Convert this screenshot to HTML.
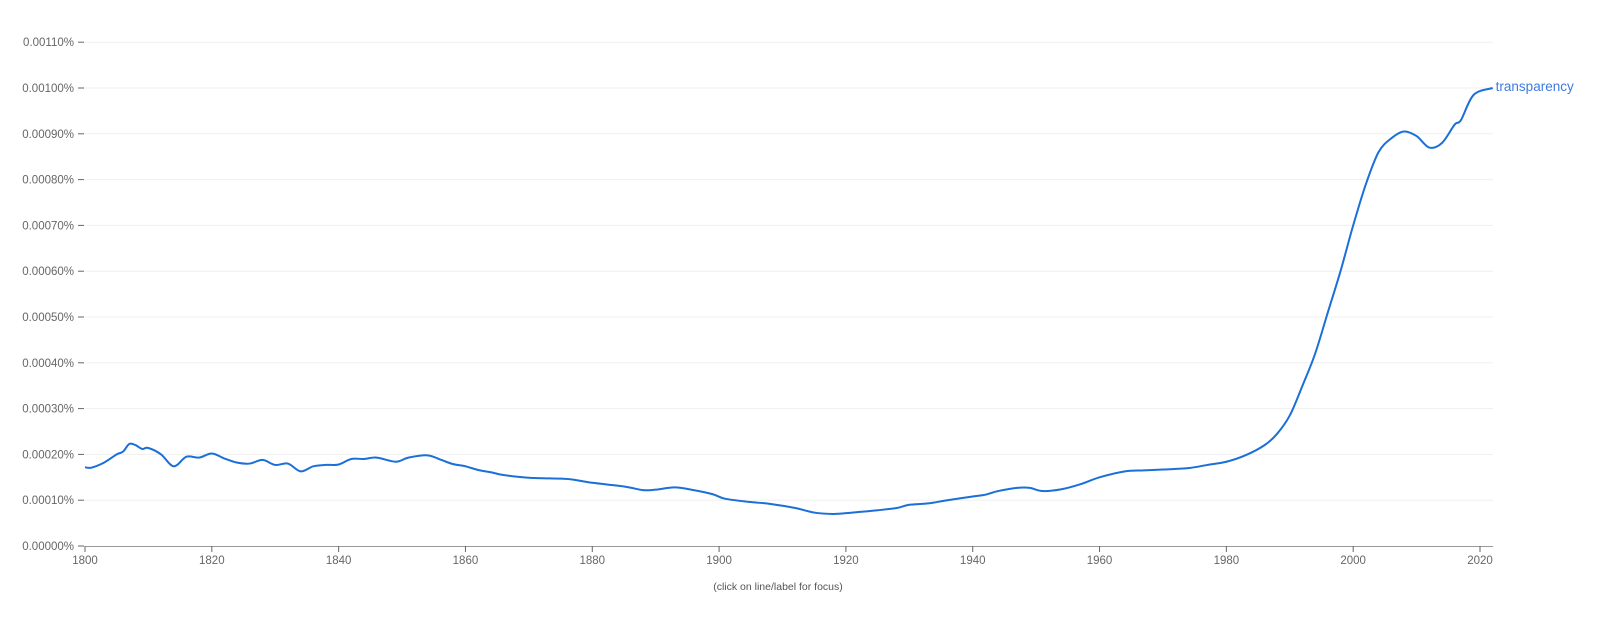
<!DOCTYPE html>
<html><head><meta charset="utf-8"><style>
body{margin:0;background:#fff;width:1600px;height:617px;overflow:hidden;font-family:"Liberation Sans",sans-serif}
svg text{font-family:"Liberation Sans",sans-serif}
</style></head><body>
<svg id="chart" width="1600" height="617" xmlns="http://www.w3.org/2000/svg">
<g id="grid"></g><g id="yaxis"></g><g id="xaxis"></g><g id="series"></g>
<text x="778" y="590" font-size="10.5" fill="#555" text-anchor="middle">(click on line/label for focus)</text>
</svg>
<script>
const years=[1800,1801,1803,1805,1806,1807,1808,1809,1810,1812,1814,1816,1818,1820,1822,1824,1826,1828,1830,1832,1834,1836,1838,1840,1842,1844,1846,1849,1851,1854,1856,1858,1860,1862,1864,1866,1870,1875,1877,1880,1885,1888,1890,1893,1896,1899,1901,1905,1908,1912,1915,1918,1921,1925,1928,1930,1933,1936,1940,1942,1944,1947,1949,1951,1954,1957,1960,1964,1967,1970,1974,1977,1980,1983,1986,1988,1990,1992,1994,1996,1998,2000,2002,2004,2006,2008,2010,2012,2014,2016,2017,2019,2022];
const values=[1.72,1.71,1.82,2.0,2.06,2.23,2.2,2.12,2.14,2.0,1.74,1.95,1.93,2.02,1.91,1.82,1.8,1.88,1.77,1.8,1.63,1.74,1.77,1.78,1.9,1.9,1.93,1.84,1.93,1.98,1.89,1.79,1.74,1.66,1.61,1.55,1.49,1.47,1.45,1.38,1.3,1.22,1.23,1.28,1.22,1.13,1.03,0.96,0.92,0.83,0.73,0.7,0.73,0.78,0.83,0.9,0.93,1.0,1.08,1.12,1.2,1.27,1.27,1.2,1.24,1.35,1.5,1.63,1.65,1.67,1.7,1.77,1.84,1.98,2.2,2.45,2.85,3.5,4.2,5.1,6.0,7.0,7.9,8.6,8.9,9.05,8.95,8.7,8.8,9.2,9.3,9.85,10.0];
const yTicks=[0,1,2,3,4,5,6,7,8,9,10,11];
const yTickLabels=["0.00000%","0.00010%","0.00020%","0.00030%","0.00040%","0.00050%","0.00060%","0.00070%","0.00080%","0.00090%","0.00100%","0.00110%"];
const xTicks=[1800,1820,1840,1860,1880,1900,1920,1940,1960,1980,2000,2020];
const seriesName="transparency";
const X=y=>85+(y-1800)*(1480-85)/220;
const Y=v=>546-v*45.8;
const NS="http://www.w3.org/2000/svg";
function mk(t,a,p){const e=document.createElementNS(NS,t);for(const k in a)e.setAttribute(k,a[k]);p.appendChild(e);return e;}
const grid=document.getElementById('grid'),ya=document.getElementById('yaxis'),xa=document.getElementById('xaxis'),se=document.getElementById('series');
yTicks.forEach((v,i)=>{
 if(v>0){const g=mk('line',{x1:85,x2:1493,y1:Y(v),y2:Y(v),stroke:'#efefef','stroke-width':1},grid);
 
 }
 const t=mk('line',{x1:78,x2:84,y1:Y(v),y2:Y(v),stroke:'#666','stroke-width':1},ya);
 
 
 const l=mk('text',{x:74,y:Y(v)+4,'font-size':11.5,fill:'#666','text-anchor':'end'},ya);l.textContent=yTickLabels[i];
 
 
});
const ax=mk('line',{x1:85,x2:1493,y1:546.5,y2:546.5,stroke:'#999','stroke-width':1},xa);


xTicks.forEach(y=>{
 const t=mk('line',{x1:X(y),x2:X(y),y1:546,y2:552,stroke:'#666','stroke-width':1},xa);
 
 
 const l=mk('text',{x:X(y),y:564,'font-size':11.5,fill:'#666','text-anchor':'middle'},xa);l.textContent=y;
 
 
});
const pts=years.map((y,i)=>[X(y),Y(values[i])]);
let d='M'+pts[0][0]+','+pts[0][1];
for(let i=0;i<pts.length-1;i++){
 const p0=pts[Math.max(0,i-1)],p1=pts[i],p2=pts[i+1],p3=pts[Math.min(pts.length-1,i+2)];
 const c1=[p1[0]+(p2[0]-p0[0])/6,p1[1]+(p2[1]-p0[1])/6],c2=[p2[0]-(p3[0]-p1[0])/6,p2[1]-(p3[1]-p1[1])/6];
 d+=`C${c1[0]},${c1[1]} ${c2[0]},${c2[1]} ${p2[0]},${p2[1]}`;
}
const path=mk('path',{d:d,fill:'none',stroke:'#1a6fd8','stroke-width':2},se);


const last=pts[pts.length-1];
const lab=mk('text',{x:last[0]+3,y:last[1]+3,'font-size':13.5,fill:'#3d7be0'},se);lab.textContent=seriesName;


</script>
</body></html>
